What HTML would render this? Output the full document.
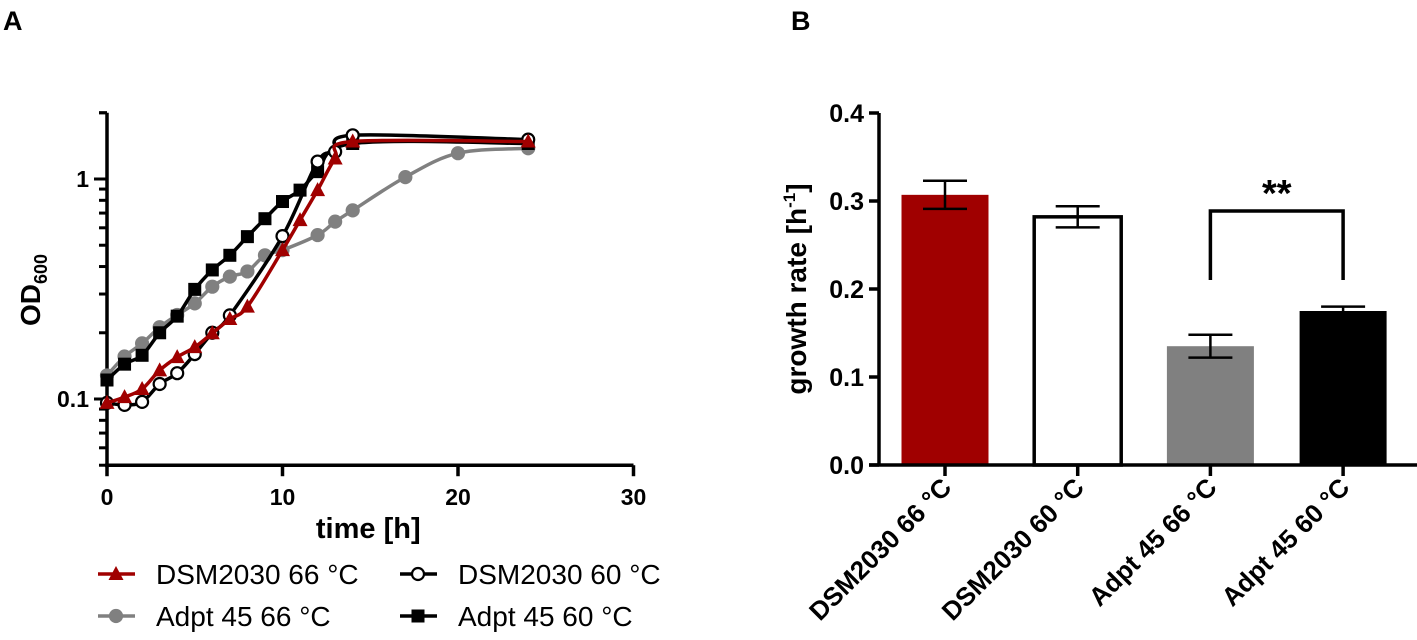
<!DOCTYPE html>
<html><head><meta charset="utf-8"><style>
html,body{margin:0;padding:0;background:#fff;}
svg{display:block;font-family:"Liberation Sans",Arial,sans-serif;}
</style></head><body>
<svg id="fig" width="1417" height="640" viewBox="0 0 1417 640">
<text x="3" y="30" font-size="27" font-weight="bold">A</text>
<text x="791" y="30" font-size="27" font-weight="bold">B</text>
<g id="chartA"></g>
<g id="chartB"></g>
</svg>
<script>
// ---- Panel A data ----
const seriesNames = ["DSM2030 66 °C","DSM2030 60 °C","Adpt 45 66 °C","Adpt 45 60 °C"];
const tRed = [0,1,2,3,4,5,6,7,8,10,11,12,13,14,24];
const odRed = [0.096,0.102,0.111,0.135,0.155,0.172,0.199,0.231,0.263,0.475,0.65,0.89,1.24,1.48,1.48];
const tWhite = [0,1,2,3,4,5,6,7,10,12,13,14,24];
const odWhite = [0.096,0.094,0.097,0.117,0.131,0.16,0.2,0.24,0.55,1.2,1.33,1.58,1.51];
const tGrey = [0,1,2,3,4,5,6,7,8,9,10,12,13,14,17,20,24];
const odGrey = [0.128,0.156,0.179,0.212,0.241,0.272,0.324,0.36,0.38,0.45,0.475,0.556,0.64,0.72,1.02,1.31,1.38];
const tBlack = [0,1,2,3,4,5,6,7,8,9,10,11,12,14,24];
const odBlack = [0.122,0.144,0.158,0.2,0.238,0.315,0.386,0.45,0.547,0.66,0.79,0.89,1.08,1.45,1.45];
const xTicksA = [0,10,20,30];
const yTicksA = [0.1,1];
// ---- Panel B data ----
const barCats = ["DSM2030 66 °C","DSM2030 60 °C","Adpt 45 66 °C","Adpt 45 60 °C"];
const barVals = [0.307,0.282,0.135,0.175];
const barErr = [0.016,0.012,0.013,0.005];
const yTicksB = [0.0,0.1,0.2,0.3,0.4];

const NS="http://www.w3.org/2000/svg";
function mk(parent,tag,attrs,text){const e=document.createElementNS(NS,tag);for(const k in attrs)e.setAttribute(k,attrs[k]);if(text!==undefined)e.textContent=text;parent.appendChild(e);return e;}

// ===== Panel A =====
const A=document.getElementById('chartA');
const ax0=107, axPer=17.55, ay1=179, ayDec=220;
const xA=t=>ax0+t*axPer;
const yA=v=>ay1-Math.log10(v)*ayDec;
const yTop=yA(2), yBot=yA(0.05);
let e;
e=mk(A,'line',{x1:ax0,y1:yTop,x2:ax0,y2:yBot+2,stroke:'#000','stroke-width':3.5});


e=mk(A,'line',{x1:ax0-2,y1:yBot,x2:xA(30),y2:yBot,stroke:'#000','stroke-width':3.5});


xTicksA.forEach(t=>{
  mk(A,'line',{x1:xA(t),y1:yBot,x2:xA(t),y2:yBot+11,stroke:'#000','stroke-width':3.5});
  e=mk(A,'text',{x:xA(t),y:yBot+40,'font-size':23,'font-weight':'bold','text-anchor':'middle'},String(t));
  
  
});
for(let d=-2;d<=0;d++){for(let m=1;m<=9;m++){const v=m*Math.pow(10,d);if(v<0.05||v>2.001)continue;
  const major=(m===1);
  mk(A,'line',{x1:ax0-(major?13:8),y1:yA(v),x2:ax0,y2:yA(v),stroke:'#000','stroke-width':3});}}
mk(A,'line',{x1:ax0-8,y1:yA(2),x2:ax0,y2:yA(2),stroke:'#000','stroke-width':3});
yTicksA.forEach(v=>{
  e=mk(A,'text',{x:ax0-18,y:yA(v)+8,'font-size':23,'font-weight':'bold','text-anchor':'end'},String(v));
  
  
});
e=mk(A,'text',{x:(xA(0)+xA(30))/2-2,y:538,'font-size':29,'font-weight':'bold','text-anchor':'middle'},'time [h]');


e=mk(A,'text',{transform:'translate(40,290) rotate(-90)','font-size':28,'font-weight':'bold','text-anchor':'middle'});


mk(e,'tspan',{},'OD');mk(e,'tspan',{'font-size':18,dy:7},'600');

function smooth(pts){let d=`M${pts[0][0]},${pts[0][1]}`;
  for(let i=0;i<pts.length-1;i++){const p0=pts[Math.max(0,i-1)],p1=pts[i],p2=pts[i+1],p3=pts[Math.min(pts.length-1,i+2)];
    const c1=[p1[0]+(p2[0]-p0[0])/6,p1[1]+(p2[1]-p0[1])/6],c2=[p2[0]-(p3[0]-p1[0])/6,p2[1]-(p3[1]-p1[1])/6];
    d+=` C${c1[0]},${c1[1]} ${c2[0]},${c2[1]} ${p2[0]},${p2[1]}`;}return d;}
const specs=[
 {t:tGrey,v:odGrey,c:'#808080',m:'circle',fill:'#808080',name:'adpt45-66'},
 {t:tBlack,v:odBlack,c:'#000',m:'square',fill:'#000',name:'adpt45-60'},
 {t:tWhite,v:odWhite,c:'#000',m:'circle',fill:'#fff',name:'dsm2030-60'},
 {t:tRed,v:odRed,c:'#a00000',m:'tri',fill:'#a00000',name:'dsm2030-66'}];
function marker(g,type,x,y,fill,stroke){
  if(type==='circle') return mk(g,'circle',{cx:x,cy:y,r:6,fill:fill,stroke:stroke,'stroke-width':2.2});
  if(type==='square') return mk(g,'rect',{x:x-6.5,y:y-6.5,width:13,height:13,fill:fill});
  return mk(g,'polygon',{points:`${x},${y-8} ${x-7.5},${y+6} ${x+7.5},${y+6}`,fill:fill});
}
specs.forEach(s=>{
  const g=mk(A,'g',{});
  
  
  const pts=s.t.map((t,i)=>[xA(t),yA(s.v[i])]);
  e=mk(g,'path',{d:smooth(pts),fill:'none',stroke:s.c,'stroke-width':3.5});
  
  
  pts.forEach(p=>{
    e=marker(g,s.m,p[0],p[1],s.fill,s.c);
    
    
  });
});
// legend
const legPos=[[98,574,'tri','#a00000','#a00000',0],[400,574,'circle','#fff','#000',1],[98,616,'circle','#808080','#808080',2],[400,616,'square','#000','#000',3]];
legPos.forEach(L=>{
  const g=mk(A,'g',{});
  
  
  mk(g,'line',{x1:L[0],y1:L[1],x2:L[0]+37,y2:L[1],stroke:L[4],'stroke-width':3.5});
  marker(g,L[2],L[0]+18,L[1],L[3],L[4]);
  mk(g,'text',{x:L[0]+58,y:L[1]+10,'font-size':28},seriesNames[L[5]]);
});

// ===== Panel B =====
const B=document.getElementById('chartB');
const bx0=879, by0=465, byPer=880;
const yB=v=>by0-v*byPer;
const xB=i=>945+i*132.7;
const bw=87;
const colors=['#a00000','#fff','#808080','#000'];
barCats.forEach((c,i)=>{
  const x=xB(i);
  e=mk(B,'rect',{x:x-bw/2,y:yB(barVals[i]),width:bw,height:by0-yB(barVals[i]),fill:colors[i],stroke:i===1?'#000':'none','stroke-width':3.5});
  
  
  const g=mk(B,'g',{stroke:'#000','stroke-width':2.5});
  
  
  const hi=yB(barVals[i]+barErr[i]),lo=yB(barVals[i]-barErr[i]);
  mk(g,'line',{x1:x,y1:hi,x2:x,y2:lo});
  mk(g,'line',{x1:x-22,y1:hi,x2:x+22,y2:hi});
  mk(g,'line',{x1:x-22,y1:lo,x2:x+22,y2:lo});
  mk(B,'line',{x1:x,y1:by0,x2:x,y2:by0+11,stroke:'#000','stroke-width':3.5});
  e=mk(B,'text',{transform:`translate(${x+8},${by0+24}) rotate(-45)`,'font-size':26,'font-weight':'bold','text-anchor':'end'},c);
  
  
});
e=mk(B,'line',{x1:bx0,y1:yB(0.4),x2:bx0,y2:by0,stroke:'#000','stroke-width':3.5});


e=mk(B,'line',{x1:bx0-10,y1:by0,x2:1417,y2:by0,stroke:'#000','stroke-width':3.5});


yTicksB.forEach(v=>{
  mk(B,'line',{x1:bx0-10,y1:yB(v),x2:bx0,y2:yB(v),stroke:'#000','stroke-width':3.5});
  e=mk(B,'text',{x:bx0-15,y:yB(v)+9,'font-size':25,'font-weight':'bold','text-anchor':'end'},v.toFixed(1));
  
  
});
e=mk(B,'text',{transform:'translate(806,289) rotate(-90)','font-size':28,'font-weight':'bold','text-anchor':'middle'});


mk(e,'tspan',{},'growth rate [h');mk(e,'tspan',{'font-size':17,dy:-11},'-1');mk(e,'tspan',{dy:11},']');
// significance bracket
const br=mk(B,'path',{d:`M${xB(2)},280 L${xB(2)},211 L${xB(3)},211 L${xB(3)},280`,fill:'none',stroke:'#000','stroke-width':3.5});


e=mk(B,'text',{x:(xB(2)+xB(3))/2,y:206,'font-size':38,'font-weight':'bold','text-anchor':'middle'},'**');


</script>
</body></html>
